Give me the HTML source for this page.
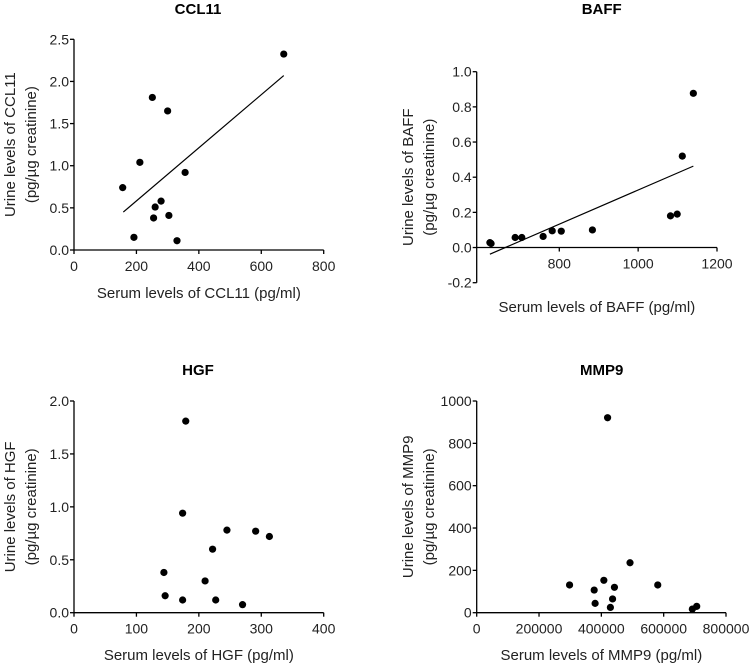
<!DOCTYPE html>
<html><head><meta charset="utf-8">
<style>
html,body{margin:0;padding:0;background:#fff;}
svg{display:block;font-family:"Liberation Sans",Arial,sans-serif;}
</style></head>
<body>
<svg id="fig" width="750" height="665" viewBox="0 0 750 665" xmlns="http://www.w3.org/2000/svg"></svg>
<script>
// ---- CCL11 ----
const ccl11X = [672,251,300,211,356,156,279,260,255,304,192,330];
const ccl11Y = [2.325,1.81,1.65,1.04,0.92,0.74,0.58,0.51,0.38,0.41,0.15,0.11];
const ccl11Line = [[158,0.45],[672,2.07]];
const ccl11XTicks = [0,200,400,600,800];
const ccl11YTicks = ["0.0","0.5","1.0","1.5","2.0","2.5"];
// ---- BAFF ----
const baffX = [624,627,688,705,759,782,805,884,1082,1099,1112,1140];
const baffY = [0.028,0.023,0.057,0.057,0.063,0.095,0.093,0.10,0.18,0.19,0.52,0.877];
const baffLine = [[624,-0.038],[1140,0.463]];
const baffXTicks = [800,1000,1200];
const baffYTicks = ["-0.2","0.0","0.2","0.4","0.6","0.8","1.0"];
// ---- HGF ----
const hgfX = [179,174,245,291,313,222,144,210,146,174,227,270];
const hgfY = [1.81,0.94,0.78,0.77,0.72,0.60,0.38,0.30,0.16,0.12,0.12,0.076];
const hgfXTicks = [0,100,200,300,400];
const hgfYTicks = ["0.0","0.5","1.0","1.5","2.0"];
// ---- MMP9 ----
const mmp9X = [420000,298000,377000,380000,408000,442000,436000,429000,492000,581000,692000,706000];
const mmp9Y = [921,131,107,44,153,120,65,25,236,131,17,30];
const mmp9XTicks = [0,200000,400000,600000,800000];
const mmp9YTicks = ["0","200","400","600","800","1000"];

const NS="http://www.w3.org/2000/svg";
const svg=document.getElementById('fig');
function mk(tag,attrs,parent){const e=document.createElementNS(NS,tag);for(const k in attrs)e.setAttribute(k,attrs[k]);(parent||svg).appendChild(e);return e;}

function panel(p){
  const g=mk('g',{});
  
  
  const sx=v=>p.x0+(v-p.xmin)/(p.xmax-p.xmin)*(p.x1-p.x0);
  const sy=v=>p.y0-(v-p.ymin)/(p.ymax-p.ymin)*(p.y0-p.y1);
  const t=mk('text',{x:p.tx,y:p.ty,'text-anchor':'middle','font-size':'15','font-weight':'bold',fill:'#000'},g);
  t.textContent=p.title;
  
  
  const axY=sy(p.xAxisAt);
  // y axis
  const ya=mk('line',{x1:p.x0,y1:p.y0,x2:p.x0,y2:p.y1,stroke:'#000','stroke-width':1.3},g);
  
  
  const xa=mk('line',{x1:p.x0,y1:axY,x2:p.x1,y2:axY,stroke:'#000','stroke-width':1.3},g);
  
  
  p.yTicks.forEach(s=>{
    const v=parseFloat(s),y=sy(v);
    mk('line',{x1:p.x0-4,y1:y,x2:p.x0,y2:y,stroke:'#000','stroke-width':1.3},g);
    const tl=mk('text',{x:p.x0-5,y:y+5,'text-anchor':'end','font-size':'14',fill:'#222'},g);
    tl.textContent=s;
    
    
  });
  p.xTicks.forEach(v=>{
    const x=sx(v);
    mk('line',{x1:x,y1:axY,x2:x,y2:axY+4,stroke:'#000','stroke-width':1.3},g);
    const tl=mk('text',{x:x,y:axY+21,'text-anchor':'middle','font-size':'14',fill:'#222'},g);
    tl.textContent=String(v);
    
    
  });
  const xt=mk('text',{x:(p.x0+p.x1)/2,y:p.xty,'text-anchor':'middle','font-size':'15',fill:'#222'},g);
  xt.textContent=p.xlabel;
  
  
  const cy=(p.y0+p.y1)/2;
  const yt=mk('text',{transform:`translate(${p.ytx},${cy}) rotate(-90)`,'text-anchor':'middle','font-size':'15',fill:'#222'},g);
  const s1=mk('tspan',{x:0,dy:0},yt);s1.textContent=p.ylabel;
  const s2=mk('tspan',{x:0,dy:21},yt);s2.textContent='(pg/\u00b5g creatinine)';
  
  
  if(p.line){
    const l=mk('line',{x1:sx(p.line[0][0]),y1:sy(p.line[0][1]),x2:sx(p.line[1][0]),y2:sy(p.line[1][1]),stroke:'#000','stroke-width':1.2},g);
    
    
  }
  p.xs.forEach((xv,i)=>{
    const c=mk('circle',{cx:sx(xv),cy:sy(p.ys[i]),r:3.6,fill:'#000'},g);
    
    
  });
}

panel({key:'ccl11',title:'CCL11',tx:198,ty:14,x0:74,x1:323.7,xmin:0,xmax:800,y0:250,y1:39.3,ymin:0,ymax:2.5,xAxisAt:0,
  xTicks:ccl11XTicks,yTicks:ccl11YTicks,xs:ccl11X,ys:ccl11Y,line:ccl11Line,xlabel:'Serum levels of CCL11 (pg/ml)',xty:298,
  ylabel:'Urine levels of CCL11',ytx:15});
panel({key:'baff',title:'BAFF',tx:601.7,ty:14,x0:476.7,x1:717,xmin:590.5,xmax:1200,y0:282.7,y1:71.7,ymin:-0.2,ymax:1.0,xAxisAt:0,
  xTicks:baffXTicks,yTicks:baffYTicks,xs:baffX,ys:baffY,line:baffLine,xlabel:'Serum levels of BAFF (pg/ml)',xty:312,
  ylabel:'Urine levels of BAFF',ytx:413});
panel({key:'hgf',title:'HGF',tx:198,ty:375,x0:74,x1:323.7,xmin:0,xmax:400,y0:612.7,y1:401,ymin:0,ymax:2.0,xAxisAt:0,
  xTicks:hgfXTicks,yTicks:hgfYTicks,xs:hgfX,ys:hgfY,line:null,xlabel:'Serum levels of HGF (pg/ml)',xty:660,
  ylabel:'Urine levels of HGF',ytx:15});
panel({key:'mmp9',title:'MMP9',tx:601.7,ty:375,x0:476.7,x1:726,xmin:0,xmax:800000,y0:612.7,y1:401,ymin:0,ymax:1000,xAxisAt:0,
  xTicks:mmp9XTicks,yTicks:mmp9YTicks,xs:mmp9X,ys:mmp9Y,line:null,xlabel:'Serum levels of MMP9 (pg/ml)',xty:660,
  ylabel:'Urine levels of MMP9',ytx:413});
</script>
</body></html>
